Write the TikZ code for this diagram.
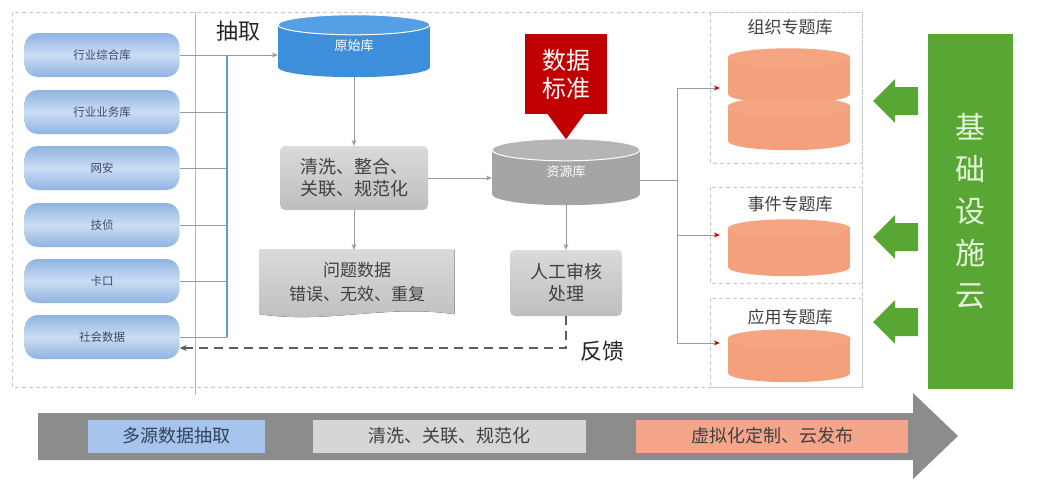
\documentclass[tikz,border=0pt]{standalone}
\usepackage{fontspec}
\setmainfont{Noto Sans CJK SC}
\usetikzlibrary{arrows.meta,calc,backgrounds}
\definecolor{srcA}{HTML}{8FB3E3}
\definecolor{srcB}{HTML}{CCDDF3}
\definecolor{srcT}{HTML}{3A4A66}
\definecolor{rawB}{HTML}{3D8FDC}
\definecolor{rawT}{HTML}{55A0E4}
\definecolor{stdB}{HTML}{A5A5A5}
\definecolor{stdT}{HTML}{B5B5B5}
\definecolor{boxA}{HTML}{DADADA}
\definecolor{boxB}{HTML}{BEBEBE}
\definecolor{redS}{HTML}{C00000}
\definecolor{orgB}{HTML}{F5A07C}
\definecolor{orgT}{HTML}{F6A582}
\definecolor{grn}{HTML}{58A734}
\definecolor{grnT}{HTML}{E6F4DC}
\definecolor{lineC}{HTML}{9A9A9A}
\definecolor{busC}{HTML}{5B9BD5}
\definecolor{dashC}{HTML}{C8C8C8}
\definecolor{barC}{HTML}{8C8C8C}
\definecolor{bBlue}{HTML}{A6C4EC}
\definecolor{bGray}{HTML}{D6D6D6}
\definecolor{bOrg}{HTML}{F5A58A}
\definecolor{txtC}{HTML}{404040}
\newcommand{\fs}[2]{\fontsize{#1}{#2}\selectfont}
% cylinder drawn behind node #1: ry, body, top, rx, edge colour
\newcommand{\mycyl}[6]{%
  \begin{scope}[on background layer]
    \fill[#3] ($(#1.north west)+(0,#2)$) rectangle ($(#1.south east)+(0,-#2)$);
    \fill[#3] ($(#1.south)+(0,-#2)$) ellipse[x radius={#5}, y radius=#2];
    \fill[#4] ($(#1.north)+(0,#2)$) ellipse[x radius={#5}, y radius=#2];
    \draw[#6,line width=1pt] ($(#1.north)+(0,#2)$) ellipse[x radius={#5}, y radius=#2];
  \end{scope}}
\tikzset{
  src/.style={rounded corners=13, minimum width=155, minimum height=44,
    top color=srcA, bottom color=srcA, middle color=srcB, font=\fs{11.5}{13}, text=srcT},
  graybox/.style={rounded corners=5, top color=boxA, bottom color=boxB,
    font=\fs{18}{22}, text=txtC, align=center},
  conn/.style={draw=lineC, line width=0.8pt},
  arr/.style={conn, -{Stealth[length=6pt,width=5pt]}},
  redarr/.style={conn, -{Stealth[length=6pt,width=5pt,color=red!80!black]}},
  feedback/.style={draw=txtC!85, line width=1.1pt, dash pattern=on 9pt off 6pt, -{Stealth[length=7pt,width=6pt]}},
  dbox/.style={draw=dashC, line width=0.7pt, dash pattern=on 4pt off 3pt},
  lbl/.style={font=\fs{22}{26}, text=black!85},
  tlabel/.style={font=\fs{17}{20}, text=txtC},
  barbox/.style={minimum height=33, font=\fs{18}{22}, text=txtC}
}
\begin{document}
\begin{tikzpicture}[x=1pt,y=-1pt]
\useasboundingbox (0,0) rectangle (1039,480);
% frames
\draw[dbox] (12,12) rectangle (862,387);
\draw[dbox] (710,12) rectangle (862,163);
\draw[dbox] (710,187) rectangle (862,283);
\draw[dbox] (710,298) rectangle (862,387);
\coordinate (divT) at (195,12);
\coordinate (divB) at (195,395);
\draw[draw=lineC!70, line width=0.7pt] (divT) -- (divB);

% sources
\node[src] (s1) at (102,55) {行业综合库};
\node[src] (s2) at (102,112) {行业业务库};
\node[src] (s3) at (102,168) {网安};
\node[src] (s4) at (102,225) {技侦};
\node[src] (s5) at (102,281) {卡口};
\node[src] (s6) at (102,337) {社会数据};
\coordinate (busT) at (227,55);
\coordinate (busB) at (227,337);
\foreach \s in {s1,s2,s3,s4,s5,s6} \draw[conn] (\s.east) -- (\s.east -| busT);
\draw[draw=busC, line width=1.2pt] (busT) -- (busB);

% raw cylinder
\node[minimum width=152, minimum height=62, text=white, font=\fs{13}{15}, yshift=4] (raw) at (354,50) {原始库};
\mycyl{raw}{10}{rawB}{rawT}{76}{white}
\draw[arr] (busT) -- (raw.west |- busT);
\node[lbl] (extract) at (238,31) {抽取};

% cleaning
\node[graybox, minimum width=148, minimum height=64] (clean) at (354,178) {清洗、整合、\\关联、规范化};
\draw[arr] (raw.south) -- (clean.north);

% problem data (document shape)
\node[minimum width=195, minimum height=64, font=\fs{17}{24}, text=txtC, align=center] (prob) at (357,282) {问题数据\\错误、无效、重复};
\begin{scope}[on background layer]
\fill[top color=boxA, bottom color=boxB] (prob.north west) -- (prob.north east) -- (prob.south east)
  .. controls +(-70,-10) and +(70,10) .. (prob.south west) -- cycle;
\end{scope}
\draw[arr] (clean.south) -- (clean.south |- prob.north);

% standard library cylinder
\node[minimum width=148, minimum height=66, text=white, font=\fs{13}{15}, yshift=4] (stdlib) at (566,176) {资源库};
\mycyl{stdlib}{11}{stdB}{stdT}{74}{white}
\draw[arr] (clean.east) -- (clean.east -| stdlib.west);

% data standard red arrow
\node[fill=redS, minimum width=82, minimum height=80, text=white, font=\fs{24}{28}, align=center] (dstd) at (566,74) {数据\\标准};
\fill[redS] ($(dstd.south)+(-19,-1)$) -- ($(dstd.south)+(19,-1)$) -- ($(dstd.south)+(0,25)$) -- cycle;

% manual review
\node[graybox, minimum width=112, minimum height=66] (review) at (566,283) {人工审核\\处理};
\draw[arr] (stdlib.south) -- (review.north);
\coordinate (fbk) at (566,348);
\draw[feedback] (review.south) -- (fbk) -- (fbk -| s6.east);
\node[lbl] (fbl) at (602,351) {反馈};

% topic libraries
\node[minimum width=122, minimum height=54] (org1) at (789,76) {};
\mycyl{org1}{9}{orgB}{orgT}{61}{orgT}
\node[minimum width=122, minimum height=52] (org2) at (789,124) {};
\mycyl{org2}{9}{orgB}{orgT}{61}{orgT}
\node[minimum width=122, minimum height=56] (evt) at (789,248) {};
\mycyl{evt}{9}{orgB}{orgT}{61}{orgT}
\node[minimum width=122, minimum height=52] (app) at (789,356) {};
\mycyl{app}{9}{orgB}{orgT}{61}{orgT}
\node[tlabel] (l1) at (790,27) {组织专题库};
\node[tlabel] (l2) at (790,204) {事件专题库};
\node[tlabel] (l3) at (790,317) {应用专题库};

% distribution tree
\coordinate (tj) at (677,180);
\coordinate (t1) at (677,88);
\coordinate (t2) at (677,235);
\coordinate (t3) at (677,343);
\draw[conn] (stdlib.east |- tj) -- (tj);
\draw[conn] (t1) -- (t3);
\draw[redarr] (t1) -- ($(org1.west |- t1)+(-8,0)$);
\draw[redarr] (t2) -- ($(evt.west |- t2)+(-8,0)$);
\draw[redarr] (t3) -- ($(app.west |- t3)+(-8,0)$);

% infrastructure cloud
\node[fill=grn, minimum width=85, minimum height=355, text=grnT, font=\fs{30}{42}, align=center] (infra) at (970,211) {基\\础\\设\\施\\云};
\foreach \yy in {101,237,322} {
  \fill[grn] (873,\yy) -- (895,\yy-22) -- (895,\yy-14) -- (918,\yy-14) -- (918,\yy+14) -- (895,\yy+14) -- (895,\yy+22) -- cycle;
}

% bottom process arrow
\fill[barC] (38,413) -- (913,413) -- (913,393) -- (958,436) -- (913,479) -- (913,460) -- (38,460) -- cycle;
\node[barbox, fill=bBlue, minimum width=177, text=srcT!90!black] (b1) at (176,436) {多源数据抽取};
\node[barbox, fill=bGray, minimum width=273] (b2) at (449,436) {清洗、关联、规范化};
\node[barbox, fill=bOrg, minimum width=272] (b3) at (772,436) {虚拟化定制、云发布};
\end{tikzpicture}
\end{document}
